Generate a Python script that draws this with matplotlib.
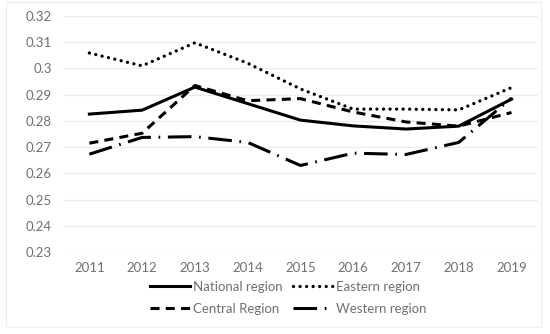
import matplotlib
matplotlib.use('Agg')
import matplotlib.pyplot as plt
from matplotlib.patches import Rectangle

years = ['2011', '2012', '2013', '2014', '2015', '2016', '2017', '2018', '2019']
national = [0.2826, 0.2841, 0.2929, 0.2866, 0.2803, 0.2781, 0.2769, 0.2780, 0.2883]
eastern = [0.3059, 0.3010, 0.3098, 0.3020, 0.2922, 0.2845, 0.2845, 0.2842, 0.2927]
central = [0.2715, 0.2753, 0.2935, 0.2877, 0.2885, 0.2834, 0.2796, 0.2780, 0.2832]
western = [0.2673, 0.2737, 0.2740, 0.2718, 0.2630, 0.2677, 0.2672, 0.2718, 0.2887]

plt.rcParams['font.family'] = ['Lato', 'DejaVu Sans']
plt.rcParams['lines.scale_dashes'] = False

grey = '#707070'
fig = plt.figure(figsize=(5.5, 3.34), dpi=100)
ax = fig.add_axes([0.1145, 0.2455, 0.8635, 0.7065])

x = range(len(years))
lw = 2.2
l_nat, = ax.plot(x, national, color='black', lw=lw, solid_joinstyle='round', label='National region')
l_eas, = ax.plot(x, eastern, color='black', lw=2.4, dashes=(0.01, 4.7), dash_capstyle='round', label='Eastern region')
l_cen, = ax.plot(x, central, color='black', lw=lw, dashes=(6.5, 4.5), label='Central Region')
l_wes, = ax.plot(x, western, color='black', lw=lw, dashes=(17, 5.5, 1.2, 5.5), label='Western region')

ax.set_xlim(-0.5, len(years) - 0.5)
ax.set_ylim(0.23, 0.32)
ax.set_xticks(list(x))
ax.set_xticklabels(years)
yt = [0.23 + 0.01 * i for i in range(10)]
ax.set_yticks(yt)
ax.set_yticklabels(['{:g}'.format(round(v, 2)) for v in yt])
ax.tick_params(length=0, labelsize=9.5, labelcolor=grey)
ax.tick_params(axis='x', pad=7)
ax.tick_params(axis='y', pad=8)
ax.grid(axis='y', color='#ececec', lw=0.8)
ax.set_axisbelow(True)
for s in ax.spines.values():
    s.set_visible(False)

# column-wise fill: col 1 = national/central, col 2 = eastern/western
handles = [l_nat, l_cen, l_eas, l_wes]
leg = fig.legend(handles, [h.get_label() for h in handles], loc='center',
                 bbox_to_anchor=(0.524, 0.109), ncol=2, frameon=False,
                 fontsize=9.5, handlelength=3.0, handletextpad=0.25, columnspacing=0.8,
                 labelspacing=0.75)
for t in leg.get_texts():
    t.set_color(grey)

fig.patches.append(Rectangle((6 / 550, 1 - 327 / 334), 535 / 550, 325 / 334,
                             transform=fig.transFigure, fill=False, ec='#eeeeee', lw=0.8))

fig.savefig('out.png', dpi=100)
